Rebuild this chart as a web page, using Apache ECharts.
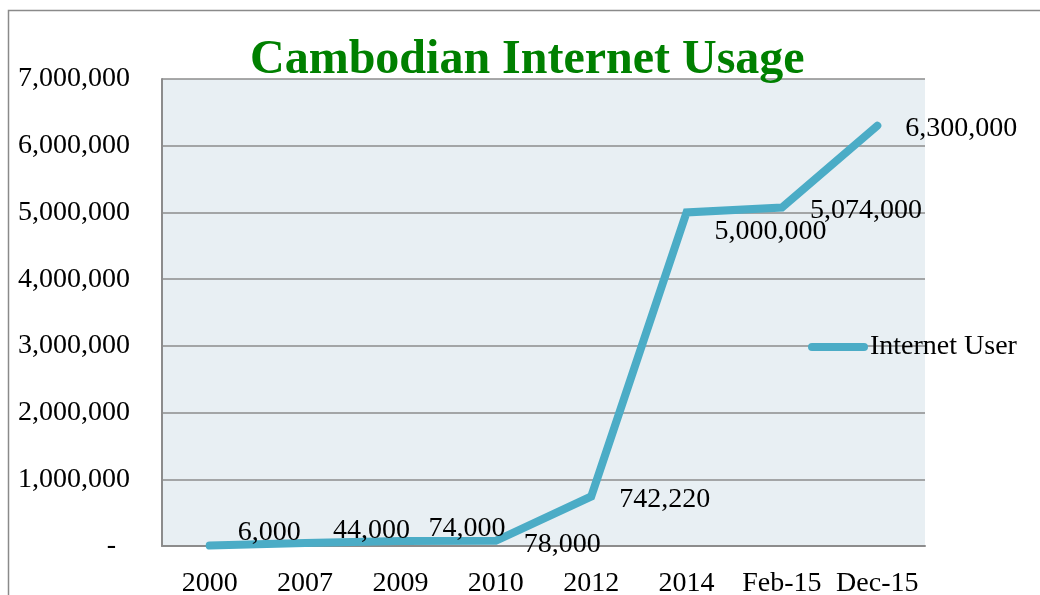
<!DOCTYPE html>
<html>
<head>
<meta charset="utf-8">
<script src="https://cdn.jsdelivr.net/npm/echarts@6/dist/echarts.min.js"></script>
<style>
  html, body { margin: 0; padding: 0; background: #ffffff; }
  #chart { width: 1040px; height: 595px; }
</style>
</head>
<body>
<div id="chart"></div>
<script>
// Cambodian internet users by period
const categories = ['2000', '2007', '2009', '2010', '2012', '2014', 'Feb-15', 'Dec-15'];
const internetUsers = [6000, 44000, 74000, 78000, 742220, 5000000, 5074000, 6300000];
const seriesName = 'Internet User';
const titleText = 'Cambodian Internet Usage';

// Vertical nudges for individual value labels so they clear the line
const labelShiftY = [-13, -12, -12, 4, 3, 19, 3, 3];

const FONT = '"Liberation Serif", "DejaVu Serif", serif';
const LINE_COLOR = '#4BACC6';
const GRID_COLOR = '#8c8c8c';

function fmt(v) {
  if (v === 0) return '-  ';
  return v.toLocaleString('en-US');
}

const chart = echarts.init(document.getElementById('chart'), null, { renderer: 'canvas' });

chart.setOption({
  animation: false,
  backgroundColor: '#ffffff',
  title: {
    text: titleText,
    left: 250,
    top: 37,
    padding: 0,
    textStyle: {
      fontFamily: FONT,
      fontSize: 48,
      fontWeight: 'bold',
      color: '#008000'
    }
  },
  legend: {
    left: 808,
    top: 333,
    padding: 0,
    itemWidth: 60,
    itemHeight: 8,
    itemGap: 2,
    icon: 'path://M4,0 L56,0 A4,4 0 0 1 56,8 L4,8 A4,4 0 0 1 4,0 Z',
    textStyle: { fontFamily: FONT, fontSize: 28, color: '#000', padding: [3, 0, 0, -3] },
    data: [seriesName]
  },
  grid: {
    left: 162,
    top: 79,
    right: 115,
    bottom: 49,
    outerBoundsMode: 'none',
    containLabel: false,
    show: true,
    backgroundColor: '#E8EFF3',
    borderWidth: 0
  },
  graphic: [{
    type: 'polyline',
    silent: true,
    shape: { points: [[8.5, 595], [8.5, 10.5], [1040, 10.5]] },
    style: { stroke: '#8a8a8a', lineWidth: 1.5, fill: null }
  }],
  xAxis: {
    type: 'category',
    data: categories,
    boundaryGap: true,
    axisLine: { show: true, lineStyle: { color: GRID_COLOR, width: 2 } },
    axisTick: { show: false },
    axisLabel: {
      fontFamily: FONT, fontSize: 28, color: '#000', margin: 24, interval: 0
    }
  },
  yAxis: {
    type: 'value',
    min: 0,
    max: 7000000,
    interval: 1000000,
    axisLine: { show: true, lineStyle: { color: GRID_COLOR, width: 2 } },
    axisTick: { show: false },
    splitLine: { show: true, lineStyle: { color: GRID_COLOR, width: 1.5 } },
    axisLabel: {
      fontFamily: FONT, fontSize: 28, color: '#000', margin: 32,
      padding: [5, 0, 0, 0],
      formatter: fmt
    }
  },
  series: [{
    name: seriesName,
    type: 'line',
    data: internetUsers.map((v, i) => ({
      value: v,
      label: { offset: [0, labelShiftY[i]] }
    })),
    symbol: 'circle',
    symbolSize: 0.1,
    showSymbol: true,
    color: LINE_COLOR,
    lineStyle: { color: LINE_COLOR, width: 8, cap: 'round', join: 'miter' },
    label: {
      show: true,
      position: 'right',
      distance: 28,
      fontFamily: FONT,
      fontSize: 28,
      color: '#000',
      formatter: p => fmt(p.value)
    },
    z: 3
  }]
});
</script>
</body>
</html>
